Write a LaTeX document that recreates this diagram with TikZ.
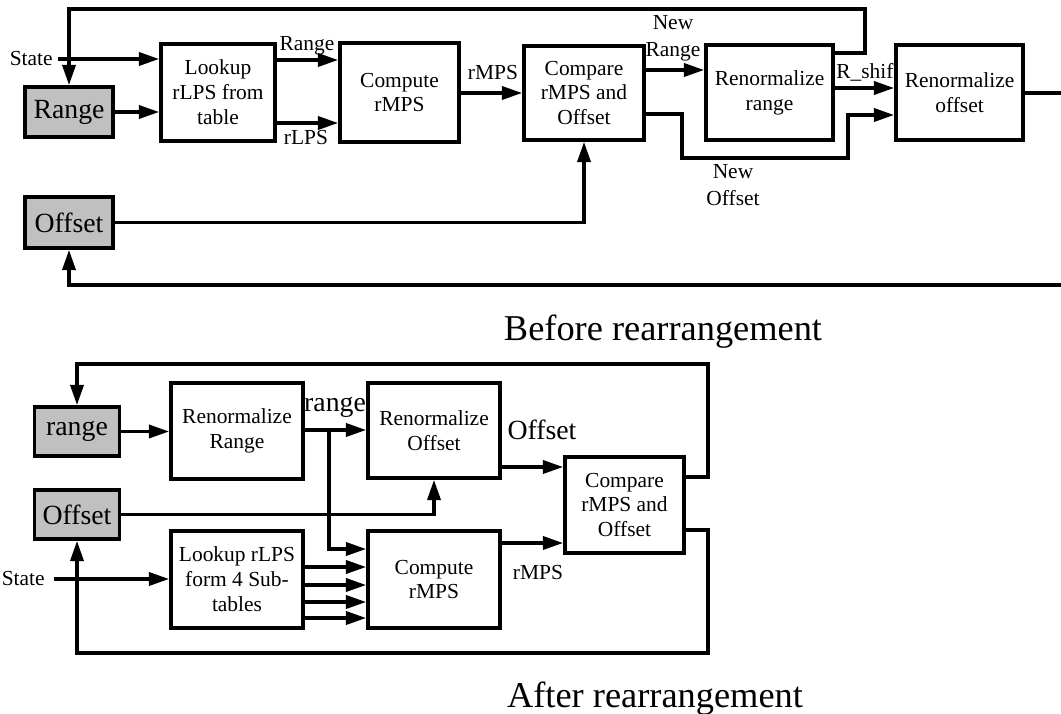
\documentclass[tikz,border=0pt]{standalone}
\usepackage{fontspec}
\setmainfont{Liberation Serif}
\usepackage{tikz}
\usetikzlibrary{arrows.meta,positioning}
\definecolor{boxgray}{RGB}{192,192,192}

\begin{document}
\begin{tikzpicture}[x=0.02cm, y=-0.02cm,
    block/.style={rectangle, draw=black, line width=2.2pt, fill=white, align=center,
                  font=\fontsize{12.2}{14.2}\selectfont, inner sep=1pt},
    store/.style={block, fill=boxgray, font=\fontsize{15.8}{18}\selectfont},
    lbl/.style={font=\fontsize{12.2}{15.3}\selectfont, align=center, inner sep=0pt},
    biglbl/.style={font=\fontsize{15.8}{18}\selectfont, inner sep=0pt},
    caption/.style={font=\fontsize{20.7}{24}\selectfont, anchor=base, inner sep=0pt},
    wire/.style={line width=1.8pt},
    arr/.style={wire, -{Triangle[length=11.5pt,width=7.5pt]}}
]
    \useasboundingbox (0,0) rectangle (1061,713);

    % before rearrangement
    \node[store, minimum width=1.76cm, minimum height=1.0cm] (rangeA) at (69,112) {Range};
    \node[store, minimum width=1.76cm, minimum height=1.02cm] (offsetA) at (69,222.5) {Offset};
    \node[block, minimum width=2.28cm, minimum height=1.94cm] (lookupA) at (218,92.5) {Lookup\\rLPS from\\table};
    \node[block, minimum width=2.38cm, minimum height=1.98cm] (computeA) at (399.5,92.5) {Compute\\rMPS};
    \node[block, minimum width=2.40cm, minimum height=1.88cm] (compareA) at (584,93) {Compare\\rMPS and\\Offset};
    \node[block, minimum width=2.54cm, minimum height=1.90cm] (renrA) at (769.5,92.5) {Renormalize\\range};
    \node[lbl, anchor=west] (shiftlbl) at (836,72) {R\_shift};
    \node[block, minimum width=2.54cm, minimum height=1.90cm] (renoA) at (959.5,92.5) {Renormalize\\offset};
    \node[lbl, anchor=east] (stateA) at (53,59) {State};
    \coordinate (outA) at (1061,93);
    \coordinate (inA) at (1061,285);

    \draw[arr] (stateA.east) ++(5,0) -- (lookupA.west |- stateA.east);
    \draw[arr] (rangeA.east) -- (lookupA.west |- rangeA.east);
    \draw[arr] (lookupA.east |- 0,60) -- (computeA.west |- 0,60);
    \draw[arr] (lookupA.east |- 0,123) -- (computeA.west |- 0,123);
    \node[lbl] at (307,46) {Range};
    \node[lbl] at (306,138) {rLPS};
    \draw[arr] (computeA.east |- 0,93) -- (compareA.west |- 0,93);
    \node[lbl] at (493,73) {rMPS};
    \draw[arr] (compareA.east |- 0,70) -- (renrA.west |- 0,70);
    \node[lbl] at (673,38) {New\\Range};
    \draw[arr] (compareA.east |- 0,114) -| (682,158) -| (848,115) -- (renoA.west |- 0,115);
    \node[lbl] at (733,185) {New\\Offset};
    \draw[arr] (renrA.east |- 0,88) -- (renoA.west |- 0,88);
    \draw[arr] (renrA.east |- 0,53) -| (865,9) -| (rangeA.north);
    \draw[wire] (renoA.east |- outA) -- (outA);
    \draw[arr] (inA) -| (offsetA.south);
    \draw[arr] (offsetA.east) -| (compareA.south);
    \node[caption] at (663,340) {Before rearrangement};

    % after rearrangement
    \node[store, minimum width=1.70cm, minimum height=0.98cm] (rangeB) at (77,431.5) {range};
    \node[store, minimum width=1.70cm, minimum height=0.98cm] (offsetB) at (77,514.5) {Offset};
    \node[block, minimum width=2.64cm, minimum height=1.92cm] (renrB) at (237,431) {Renormalize\\Range};
    \node[block, minimum width=2.64cm, minimum height=1.94cm] (lookupB) at (237,579.5) {Lookup rLPS\\form 4 Sub-\\tables};
    \node[block, minimum width=2.64cm, minimum height=1.90cm] (renoB) at (434,430.5) {Renormalize\\Offset};
    \node[block, minimum width=2.64cm, minimum height=1.94cm] (computeB) at (434,579.5) {Compute\\rMPS};
    \node[block, minimum width=2.38cm, minimum height=1.92cm] (compareB) at (624.5,505) {Compare\\rMPS and\\Offset};
    \node[lbl, anchor=east] (stateB) at (45,579) {State};
    \coordinate (brB) at (329,430);

    \draw[arr] (stateB.east) ++(9,0) -- (lookupB.west |- stateB.east);
    \draw[arr] (rangeB.east) -- (renrB.west |- rangeB.east);
    \draw[arr] (renrB.east |- 0,430) -- (renoB.west |- 0,430);
    \node[biglbl] at (335,407) {range};
    \draw[arr] (brB) |- (computeB.west |- 0,549);
    \foreach \yy in {567,585,602,618}
        \draw[arr] (lookupB.east |- 0,\yy) -- (computeB.west |- 0,\yy);
    \draw[arr] (offsetB.east) -| (renoB.south);
    \draw[arr] (renoB.east |- 0,467) -- (compareB.west |- 0,467);
    \node[biglbl] at (542,430) {Offset};
    \draw[arr] (computeB.east |- 0,543) -- (compareB.west |- 0,543);
    \node[lbl] at (538,573) {rMPS};
    \draw[arr] (compareB.east |- 0,477) -| (708,364) -| (rangeB.north);
    \draw[arr] (compareB.east |- 0,530) -| (708,653) -| (offsetB.south);
    \node[caption] at (655,707) {After rearrangement};
\end{tikzpicture}
\end{document}
